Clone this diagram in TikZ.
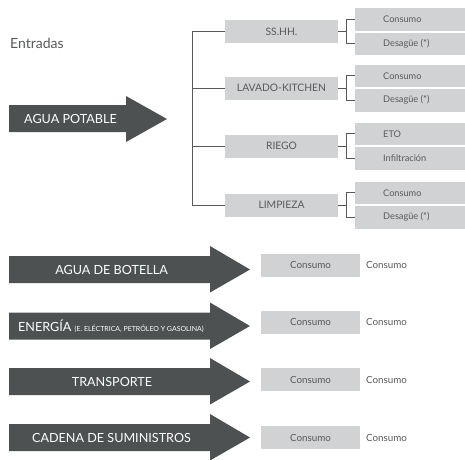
\documentclass[tikz,border=0pt]{standalone}
\usepackage{fontspec}
\setmainfont{Lato}
\definecolor{dk}{HTML}{4E5152}
\definecolor{bx}{HTML}{D1D2D4}
\definecolor{tx}{HTML}{58595B}
\begin{document}
\begin{tikzpicture}[x=1pt,y=-1pt,
  lbox/.style={fill=bx, minimum width=113pt, minimum height=23pt, inner sep=0, text=tx, font=\fontsize{10.3}{11}\selectfont},
  sbox/.style={fill=bx, minimum width=110pt, minimum height=22.5pt, inner sep=0},
  stext/.style={anchor=west, inner sep=0, text=tx, font=\fontsize{9.2}{10}\selectfont},
  otext/.style={anchor=west, inner sep=0, text=tx, font=\fontsize{9.8}{10}\selectfont},
  cbox/.style={fill=bx, minimum width=99pt, minimum height=23pt, inner sep=0, text=tx, font=\fontsize{9.8}{10}\selectfont},
  arrowfill/.style={fill=dk},
  atext/.style={text=white, font=\fontsize{12.6}{14}\selectfont, inner sep=0},
  conn/.style={draw=tx, line width=0.8pt}
]
\useasboundingbox (0,0) rectangle (465,459);

% title
\node[anchor=west, inner sep=0, text=tx, font=\fontsize{14}{16}\selectfont] (entradas) at (10,43) {Entradas};

% main arrow
\path[arrowfill] (9,105) -- (126,105) -- (126,96) -- (167,119) -- (126,142) -- (126,132) -- (9,132) -- cycle;
\node[atext] (potable) at (70.5,119) {AGUA POTABLE};

% level-1 boxes
\node[lbox] (ss) at (281.5,31.5) {SS.HH.};
\node[lbox] (lav) at (281.5,88) {LAVADO-KITCHEN};
\node[lbox] (rie) at (281.5,146) {RIEGO};
\node[lbox] (lim) at (281.5,205) {LIMPIEZA};

% sub boxes
\foreach \n/\y/\a/\b in {ss/31.5/Consumo/Desagüe (*), lav/88/Consumo/Desagüe (*), rie/146/ETO/Infiltración, lim/205/Consumo/Desagüe (*)}{
  \node[sbox] (\n a) at (410,\y-12.25) {};
  \node[sbox] (\n b) at (410,\y+12.25) {};
  \node[stext] (\n at) at (383,\y-12.25) {\a};
  \node[stext] (\n bt) at (383,\y+12.25) {\b};
}

% trunk
\coordinate (tr) at (192,0);
\draw[conn] (ss.west) -| (tr |- lim.west) -- (lim.west);
\draw[conn] (lav.west) -- (lav.west -| tr);
\draw[conn] (rie.west) -- (rie.west -| tr);

% brackets
\coordinate (br) at (346,0);
\foreach \n in {ss,lav,rie,lim}{
  \draw[conn] (\n.east) -- (\n.east -| br);
  \draw[conn] (\n a.west) -| (br |- \n b.west) -- (\n b.west);
}

% bottom arrows
\foreach \c in {269.5,326,381.5,437.5}{
  \path[arrowfill] (9,\c-13.5) -- (210,\c-13.5) -- (210,\c-23.5) -- (250,\c) -- (210,\c+23) -- (210,\c+13.5) -- (9,\c+13.5) -- cycle;
}
\node[atext] (bot) at (111.5,269.5) {AGUA DE BOTELLA};
\node[atext, anchor=west] (ene) at (18,326) {ENERGÍA {\fontsize{7}{8}\selectfont (E. ELÉCTRICA, PETRÓLEO Y GASOLINA)}};
\node[atext] (tra) at (112,381.5) {TRANSPORTE};
\node[atext] (cad) at (111.5,437.5) {CADENA DE SUMINISTROS};

% consumo boxes
\foreach \n/\y in {bot/265,ene/322,tra/379.5,cad/437.5}{
  \node[cbox] (\n c) at (310.5,\y) {Consumo};
  \node[otext] (\n o) at (366,\y) {Consumo};
}
\end{tikzpicture}
\end{document}
